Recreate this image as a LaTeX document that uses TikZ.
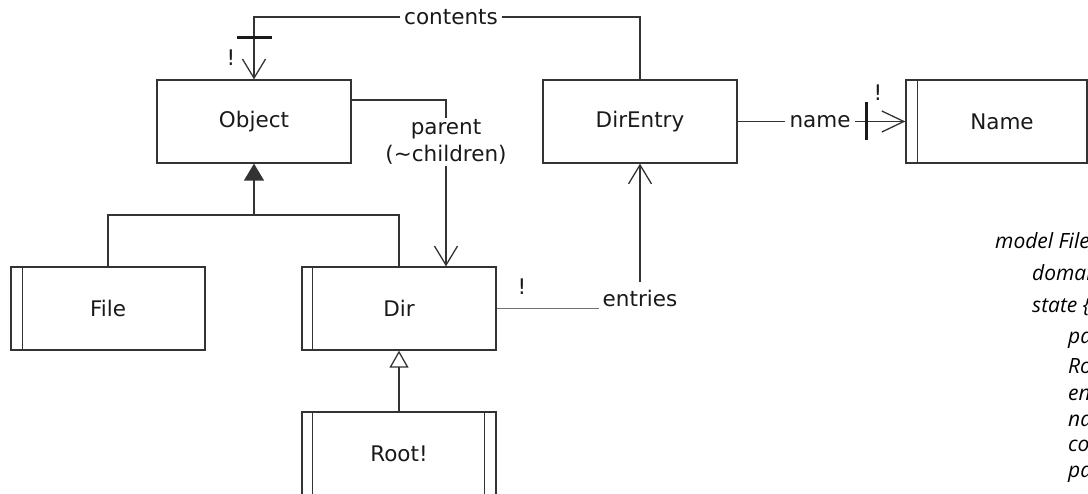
\documentclass[tikz,border=0pt]{standalone}
\usepackage{fontspec}
\setmainfont{DejaVu Sans}
\newfontfamily\notefont{Open Sans}
\usetikzlibrary{arrows.meta,calc}

\begin{document}
\begin{tikzpicture}[x=1pt,y=-1pt,
  ink/.style={draw=black!80, line width=1.3pt},
  thin/.style={draw=black!55, line width=1.4pt},
  cls/.style={ink, rectangle, minimum width=194pt, minimum height=83pt,
    inner sep=0pt, font=\fontsize{21.5}{27}\selectfont, text=black!90},
  lbl/.style={font=\fontsize{21.5}{27}\selectfont, text=black!90, inner sep=3pt},
  lblw/.style={lbl, fill=white, inner xsep=4pt},
  barb/.style={-{Straight Barb[length=19pt,width=23pt]}},
  tickbar/.style={draw=black!90, line width=3pt},
  note/.style={anchor=base west, inner sep=0pt,
    font=\notefont\itshape\fontsize{21}{25}\selectfont, text=black},
]
\useasboundingbox (0,0) rectangle (1088,494);
\clip (0,0) rectangle (1088,494);

% classes
\node[cls] (object)   at (254,121.5) {Object};
\node[cls] (direntry) at (640,121.5) {DirEntry};
\node[cls, minimum width=181pt] (name) at (996.5,121.5) {};
\node[lbl] (nametext) at (1002,121.5) {Name};
\node[cls] (file) at (108,308.5) {File};
\node[cls] (dir)  at (399,308.5) {Dir};
\node[cls] (root) at (399,453.5) {Root!};

% side bars of the set boxes
\draw[ink] ($(file.north west)+(12,0)$) -- ($(file.south west)+(12,0)$);
\draw[ink] ($(dir.north west)+(11,0)$) -- ($(dir.south west)+(11,0)$);
\draw[ink] ($(root.north west)+(11,0)$) -- ($(root.south west)+(11,0)$);
\draw[ink] ($(root.north east)+(-12,0)$) -- ($(root.south east)+(-12,0)$);
\draw[ink] ($(name.north west)+(12,0)$) -- ($(name.south west)+(12,0)$);

% contents: DirEntry -> Object
\coordinate (ctop) at (object.north |- 0,17);
\draw[ink, barb] (direntry.north) |- (ctop) -- (object.north);
\node[lblw] (contents) at (451,17) {contents};
\coordinate (ctick) at (object.north |- 0,38);
\draw[tickbar] ($(ctick)+(-17,0)$) -- ($(ctick)+(18,0)$);
\node[lbl] (cbang) at (231,58) {!};

% name: DirEntry -> Name
\draw[ink, -{Straight Barb[length=22pt,width=21pt]}] (direntry.east) -- (name.west);
\node[lblw, inner xsep=5pt] (namelbl) at (820,121.5) {name};
\draw[tickbar, line width=2.6pt] ($(name.west)+(-39,-19)$) -- ($(name.west)+(-39,19)$);
\node[lbl] (nbang) at (878,93) {!};

% parent (~children): Object -> Dir
\draw[ink, barb] (object.east |- 0,100) -| (dir.north -| 446,0);
\node[lblw, align=center, inner ysep=2pt] (parentlbl) at (446,142)
  {parent\\(\textasciitilde children)};

% File and Dir extend Object
\coordinate (gen) at (object.south |- 0,215);
\draw[ink] (file.north) |- (gen) -| (dir.north);
\draw[ink, -{Triangle[length=17pt,width=20pt]}] (gen) -- (object.south);

% Root extends Dir
\draw[ink, -{Triangle[open,length=17pt,width=19pt]}] (root.north) -- (dir.south);

% entries: Dir -> DirEntry
\node[lbl, inner xsep=4pt, inner ysep=7pt] (entries) at (640,298) {entries};
\draw[thin] (dir.east) -- (dir.east -| entries.west);
\draw[ink, barb] (entries.north) -- (direntry.south);
\node[lbl] (ebang) at (522,287) {!};

% model text, running past the right edge
\node[note] (m1) at (995,249) {model File};
\node[note] (m2) at (1032,281) {domai};
\node[note] (m3) at (1032,313) {state \{};
\node[note] (m4) at (1068,344) {pa};
\node[note] (m5) at (1068,374) {Ro};
\node[note] (m6) at (1068,401) {en};
\node[note] (m7) at (1068,427) {na};
\node[note] (m8) at (1068,452) {co};
\node[note] (m9) at (1068,478) {pa};
\end{tikzpicture}
\end{document}
